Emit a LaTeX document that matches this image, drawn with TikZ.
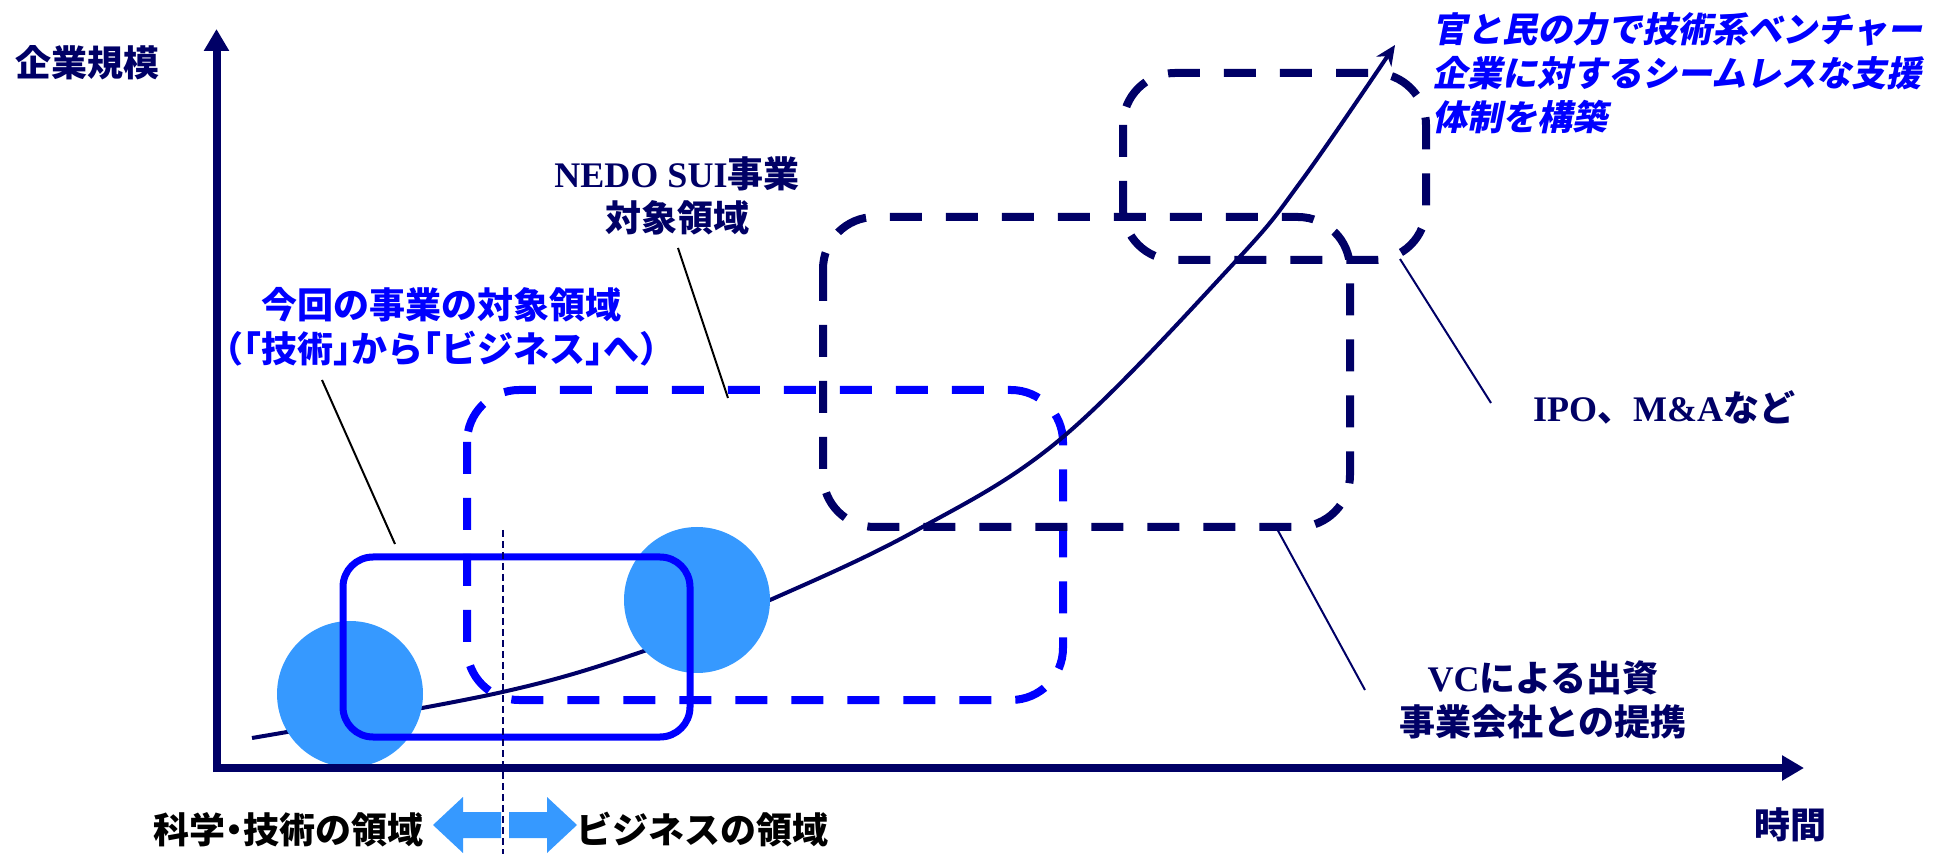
\documentclass[tikz,border=0pt]{standalone}
\usepackage{fontspec}
\setmainfont{Liberation Serif}
\newfontfamily\jp{Noto Sans CJK JP}
\newfontfamily\jph{Noto Sans CJK JP}[RawFeature=+halt]
\newfontfamily\jpi{Noto Sans CJK JP}[FakeSlant=0.2]
\newfontfamily\lt{Liberation Serif}
\usetikzlibrary{arrows.meta}
\definecolor{navy}{RGB}{0,0,102}
\definecolor{pblue}{RGB}{0,0,255}
\definecolor{lblue}{RGB}{54,153,255}
\tikzset{
  axis/.style={navy, line width=4pt, -{Triangle[length=11pt,width=12pt]}},
  zone/.style={line width=4pt, dash pattern=on 16pt off 12pt, rounded corners=26pt},
  lbl/.style={inner sep=0pt, font={\jp\bfseries\fontsize{18}{22}\selectfont}},
  callout/.style={line width=1pt},
}
\begin{document}
\begin{tikzpicture}[x=0.5pt,y=-0.5pt]
\useasboundingbox (0,0) rectangle (1937,854);
% zones
\draw[zone, pblue] (467,390) rectangle (1063,700);
\draw[zone, navy] (823,217) rectangle (1350,527);
\draw[zone, navy] (1123,73) rectangle (1426,260);
% growth curve
\draw[navy, line width=2pt, -{Stealth[length=10pt,width=9pt]}] plot[smooth, tension=0.6] coordinates {(252,738) (498,693) (644,651) (770,600) (917,530) (1063,437) (1235,262) (1302,180) (1395,45)};
% circles
\fill[lblue] (350,694) circle[radius=73];
\fill[lblue] (697,600) circle[radius=73];
% current project box
\draw[pblue, line width=3.5pt, rounded corners=15pt] (343,557) rectangle (690,737);
% axes
\draw[axis] (216.5,772) -- (216.5,29);
\draw[axis] (213,768) -- (1804,768);
% divider
\coordinate (dtop) at (503,530);
\coordinate (dbot) at (503,854);
\draw[navy, line width=1pt, dash pattern=on 3.5pt off 2pt] (dtop) -- (dbot);
% double arrow
\fill[lblue] (433,825) -- (463,797) -- (463,812) -- (501,812) -- (501,838) -- (463,838) -- (463,853) -- cycle;
\fill[lblue] (577,825) -- (547,797) -- (547,812) -- (509,812) -- (509,838) -- (547,838) -- (547,853) -- cycle;
% labels
\node[lbl, navy] (yl) at (87,63) {企業規模};
\node[lbl, navy] (xl) at (1790,825) {時間};
\node[lbl, navy, align=center] (nedo) at (677,196) {{\lt NEDO SUI}事業\\対象領域};
\node[lbl, pblue, align=center] (cur) at (441,327) {今回の事業の対象領域\\{\jph （「技術」から「ビジネス」へ）}};
\node[lbl, navy] (ipo) at (1664,407) {{\lt IPO}、{\lt M\&A}など};
\node[lbl, navy, align=center] (vc) at (1543,700) {{\lt VC}による出資\\事業会社との提携};
\node[lbl, black, font={\jph\bfseries\fontsize{18}{22}\selectfont}] (sci) at (288,830) {科学・技術の領域};
\node[lbl, black] (biz) at (702,830) {ビジネスの領域};
\node[lbl, pblue, anchor=west, align=left, font={\jpi\bfseries\fontsize{17.5}{22}\selectfont}] (gov) at (1432,73) {官と民の力で技術系ベンチャー\\企業に対するシームレスな支援\\体制を構築};
% callouts
\coordinate (c1a) at (322,380); \coordinate (c1b) at (395,544);
\coordinate (c2a) at (678,248); \coordinate (c2b) at (728,398);
\coordinate (c3a) at (1400,259); \coordinate (c3b) at (1491,403);
\coordinate (c4a) at (1276,527); \coordinate (c4b) at (1365,690);
\draw[callout, black] (c1a) -- (c1b);
\draw[callout, black] (c2a) -- (c2b);
\draw[callout, navy] (c3a) -- (c3b);
\draw[callout, navy] (c4a) -- (c4b);
\end{tikzpicture}
\end{document}
